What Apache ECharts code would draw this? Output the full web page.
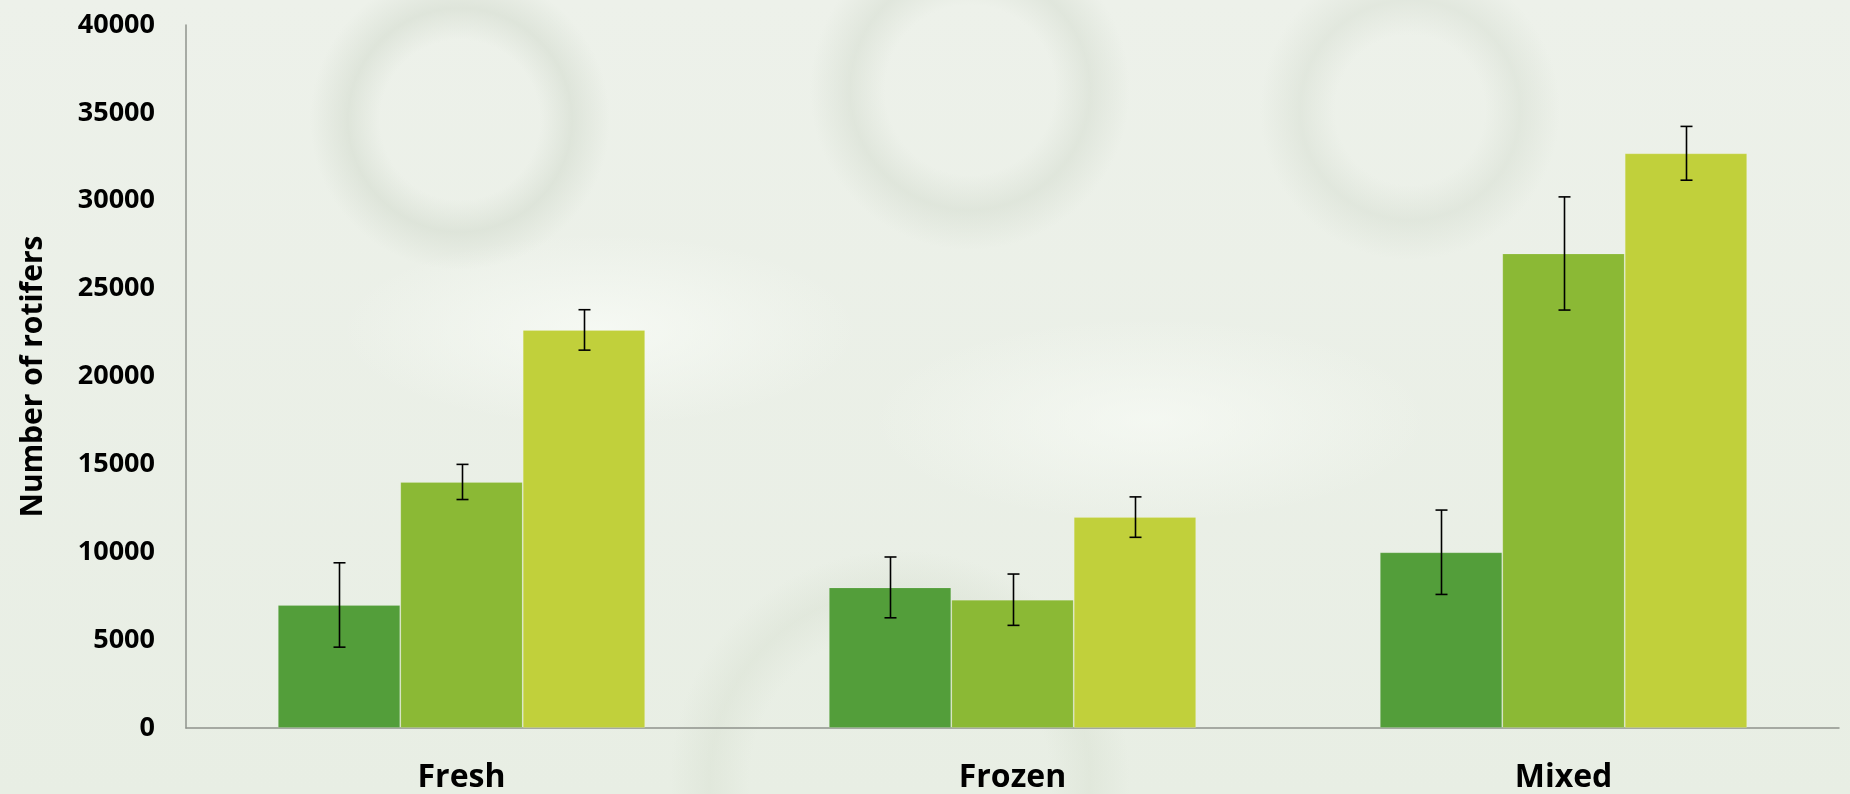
<!DOCTYPE html>
<html>
<head>
<meta charset="utf-8">
<script src="https://cdn.jsdelivr.net/npm/echarts@6/dist/echarts.min.js"></script>
<style>
  html, body { margin: 0; padding: 0; width: 1850px; height: 794px; overflow: hidden; }
  body {
    background-color: #e9eee5;
    background-image:
      radial-gradient(circle at 460px 120px, rgba(255,255,255,0) 80px, rgba(205,214,200,0.45) 112px, rgba(255,255,255,0) 150px),
      radial-gradient(circle at 970px 90px, rgba(255,255,255,0) 85px, rgba(205,214,200,0.4) 120px, rgba(255,255,255,0) 160px),
      radial-gradient(circle at 1410px 110px, rgba(255,255,255,0) 75px, rgba(205,214,200,0.35) 110px, rgba(255,255,255,0) 150px),
      radial-gradient(circle at 900px 780px, rgba(255,255,255,0) 150px, rgba(208,217,200,0.3) 190px, rgba(255,255,255,0) 230px),
      radial-gradient(ellipse at 600px 330px, rgba(248,251,246,0.8) 0px, rgba(248,251,246,0) 260px),
      radial-gradient(ellipse at 1150px 420px, rgba(248,251,246,0.7) 0px, rgba(248,251,246,0) 280px),
      linear-gradient(180deg, #edf1ea 0%, #e8eee4 100%);
  }
  #chart { width: 1850px; height: 794px; }
</style>
</head>
<body>
<div id="chart"></div>
<script>
// ---- data ----
var categories = ['Fresh', 'Frozen', 'Mixed'];
var seriesNames = ['Series A', 'Series B', 'Series C'];
var valuesA = [7000, 8000, 10000];
var valuesB = [14000, 7300, 27000];
var valuesC = [22650, 12000, 32700];
var errorsA = [2400, 1730, 2400];
var errorsB = [1000, 1460, 3220];
var errorsC = [1150, 1150, 1530];
var yTicks = [0, 5000, 10000, 15000, 20000, 25000, 30000, 35000, 40000];

var colors = ['#539e3a', '#8bb935', '#c1d03b'];
var allValues = [valuesA, valuesB, valuesC];
var allErrors = [errorsA, errorsB, errorsC];
var gapRatio = 1 / 3;

var errData = [];
for (var s = 0; s < 3; s++) {
  for (var i = 0; i < categories.length; i++) {
    errData.push([i, allValues[s][i] - allErrors[s][i], allValues[s][i] + allErrors[s][i], s]);
  }
}

var font = '"Open Sans", "DejaVu Sans", sans-serif';

var barSeries = allValues.map(function (vals, s) {
  return {
    name: seriesNames[s],
    type: 'bar',
    data: vals,
    barGap: '0%',
    barCategoryGap: '33.33%',
    itemStyle: { color: colors[s], borderColor: 'rgba(255,255,255,0.15)', borderWidth: 1 },
    emphasis: { disabled: true },
    silent: true,
    z: 2
  };
});

var errorSeries = {
  type: 'custom',
  data: errData,
  encode: { x: 0, y: [1, 2] },
  z: 5,
  silent: true,
  renderItem: function (params, api) {
    var idx = api.value(0);
    var low = api.coord([idx, api.value(1)]);
    var high = api.coord([idx, api.value(2)]);
    var band = api.size([1, 0])[0];
    var bw = band * (1 - gapRatio) / 3;
    var s = api.value(3);
    var x = Math.round(low[0] + (s - 1) * bw) + 0.5;
    var cap = 6;
    var style = { stroke: '#000', lineWidth: 1.6 };
    return {
      type: 'group',
      children: [
        { type: 'line', shape: { x1: x, y1: high[1], x2: x, y2: low[1] }, style: style },
        { type: 'line', shape: { x1: x - cap, y1: high[1], x2: x + cap, y2: high[1] }, style: style },
        { type: 'line', shape: { x1: x - cap, y1: low[1], x2: x + cap, y2: low[1] }, style: style }
      ]
    };
  }
};

var chart = echarts.init(document.getElementById('chart'), null, { renderer: 'canvas' });
chart.setOption({
  backgroundColor: 'transparent',
  animation: false,
  grid: { left: 186, right: 11, top: 25, bottom: 65, containLabel: false },
  xAxis: {
    type: 'category',
    data: categories,
    axisLine: { lineStyle: { color: '#8f938c', width: 1.5 } },
    axisTick: { show: false },
    axisLabel: { color: '#000', fontFamily: font, fontWeight: 'bold', fontSize: 32, margin: 34 }
  },
  yAxis: {
    type: 'value',
    min: yTicks[0],
    max: yTicks[yTicks.length - 1],
    interval: yTicks[1] - yTicks[0],
    name: 'Number of rotifers',
    nameLocation: 'middle',
    nameGap: 138,
    nameRotate: 90,
    nameTextStyle: { color: '#000', fontFamily: font, fontWeight: 'bold', fontSize: 30 },
    axisLine: { show: true, lineStyle: { color: '#8f938c', width: 1.5 } },
    axisTick: { show: false },
    splitLine: { show: false },
    axisLabel: {
      color: '#000', fontFamily: font, fontWeight: 'bold', fontSize: 27, margin: 31,
      formatter: function (v) { return String(v); }
    }
  },
  series: barSeries.concat([errorSeries])
});
</script>
</body>
</html>
